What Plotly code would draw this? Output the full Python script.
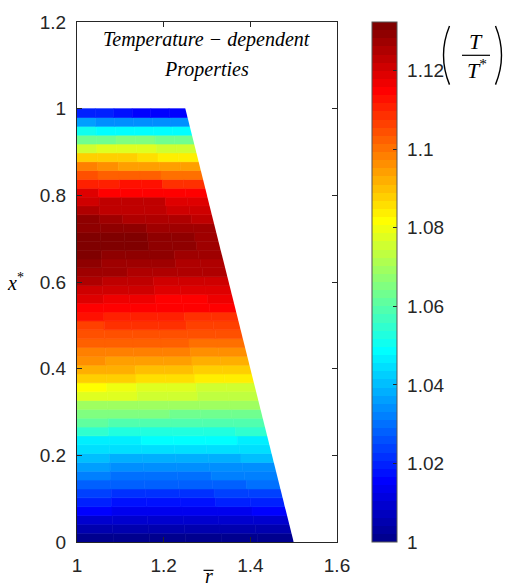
import numpy as np
import plotly.graph_objects as go

# ---------------- data ----------------
# axial grid nodes x* (49 cells between 50 nodes) and domain geometry
x_nodes = np.linspace(0.0, 1.0, 50)
R_IN = 1.0            # inner radius r̄
R_OUT_BOTTOM = 1.5    # outer radius at x* = 0
R_OUT_TOP = 1.25      # outer radius at x* = 1

# T/T* per axial row (bottom -> top) for six radial bands (inner -> outer)
T_band1 = [1.001, 1.005, 1.009, 1.016, 1.020, 1.024, 1.028, 1.032, 1.036, 1.040,
           1.045, 1.047, 1.055, 1.061, 1.065, 1.069, 1.078, 1.082, 1.088, 1.092,
           1.096, 1.098, 1.102, 1.105, 1.107, 1.113, 1.115, 1.119, 1.121, 1.125,
           1.127, 1.129, 1.131, 1.131, 1.131, 1.129, 1.129, 1.125, 1.121, 1.119,
           1.111, 1.105, 1.098, 1.088, 1.076, 1.063, 1.051, 1.036, 1.020]
T_band2 = [1.001, 1.005, 1.009, 1.013, 1.018, 1.022, 1.028, 1.030, 1.034, 1.038,
           1.045, 1.047, 1.053, 1.059, 1.065, 1.069, 1.078, 1.080, 1.088, 1.092,
           1.094, 1.098, 1.102, 1.105, 1.109, 1.111, 1.115, 1.117, 1.121, 1.123,
           1.127, 1.127, 1.129, 1.131, 1.131, 1.129, 1.127, 1.123, 1.123, 1.115,
           1.111, 1.102, 1.096, 1.088, 1.078, 1.063, 1.049, 1.034, 1.020]
T_band3 = [1.001, 1.005, 1.009, 1.013, 1.018, 1.022, 1.028, 1.030, 1.034, 1.038,
           1.045, 1.049, 1.053, 1.059, 1.065, 1.069, 1.076, 1.078, 1.086, 1.090,
           1.094, 1.098, 1.102, 1.105, 1.109, 1.111, 1.115, 1.117, 1.121, 1.123,
           1.125, 1.127, 1.129, 1.131, 1.131, 1.129, 1.125, 1.123, 1.123, 1.115,
           1.113, 1.102, 1.094, 1.088, 1.078, 1.065, 1.049, 1.034, 1.018]
T_band4 = [1.001, 1.005, 1.009, 1.013, 1.018, 1.022, 1.028, 1.030, 1.034, 1.038,
           1.045, 1.049, 1.053, 1.059, 1.063, 1.069, 1.076, 1.078, 1.086, 1.090,
           1.094, 1.098, 1.102, 1.105, 1.109, 1.111, 1.115, 1.115, 1.119, 1.121,
           1.125, 1.127, 1.129, 1.129, 1.129, 1.127, 1.125, 1.123, 1.123, 1.115,
           1.113, 1.102, 1.094, 1.086, 1.078, 1.065, 1.049, 1.034, 1.016]
T_band5 = [1.001, 1.005, 1.009, 1.013, 1.020, 1.024, 1.028, 1.032, 1.034, 1.038,
           1.045, 1.049, 1.053, 1.059, 1.063, 1.069, 1.073, 1.076, 1.084, 1.088,
           1.092, 1.096, 1.100, 1.105, 1.107, 1.109, 1.115, 1.115, 1.119, 1.121,
           1.125, 1.125, 1.127, 1.129, 1.129, 1.127, 1.125, 1.121, 1.119, 1.115,
           1.109, 1.100, 1.094, 1.084, 1.076, 1.063, 1.049, 1.034, 1.016]
T_band6 = [1.001, 1.005, 1.009, 1.016, 1.020, 1.024, 1.030, 1.032, 1.034, 1.040,
           1.045, 1.047, 1.055, 1.059, 1.063, 1.069, 1.073, 1.076, 1.084, 1.088,
           1.092, 1.096, 1.100, 1.105, 1.107, 1.109, 1.115, 1.117, 1.119, 1.121,
           1.125, 1.125, 1.127, 1.127, 1.127, 1.127, 1.123, 1.121, 1.119, 1.115,
           1.109, 1.100, 1.094, 1.084, 1.076, 1.063, 1.049, 1.034, 1.016]
T_bands = [T_band1, T_band2, T_band3, T_band4, T_band5, T_band6]

T_MIN, T_MAX = 1.0, 1.1324
x_tickvals = [1.0, 1.2, 1.4, 1.6]
x_ticktext = ["1", "1.2", "1.4", "1.6"]
y_tickvals = [0, 0.2, 0.4, 0.6, 0.8, 1.0, 1.2]
y_ticktext = ["0", "0.2", "0.4", "0.6", "0.8", "1", "1.2"]
cb_tickvals = [1.0, 1.02, 1.04, 1.06, 1.08, 1.1, 1.12]
cb_ticktext = ["1", "1.02", "1.04", "1.06", "1.08", "1.1", "1.12"]


# ---------------- MATLAB jet(64) as a stepped colorscale ----------------
def matlab_jet(m=64):
    n = int(np.ceil(m / 4))
    u = np.concatenate([np.arange(1, n + 1) / n, np.ones(n - 1), np.arange(n, 0, -1) / n])
    g = int(np.ceil(n / 2)) - (1 if m % 4 == 1 else 0) + np.arange(1, len(u) + 1)
    r = g + n
    b = g - n
    J = np.zeros((m, 3))
    for idx_arr, ch in ((r, 0), (g, 1), (b, 2)):
        for i, val in zip(idx_arr, u):
            if 1 <= i <= m:
                J[i - 1, ch] = val
    return J


jet = matlab_jet(64)
colorscale = []
for k, c in enumerate(jet):
    col = "rgb(%d,%d,%d)" % tuple(int(round(v * 255)) for v in c)
    colorscale.append([k / 64, col])
    colorscale.append([(k + 1) / 64, col])

# ---------------- figure ----------------
W, H = 505, 588
PL, PR, PT, PB = 77, 337, 19, 542   # plot area in pixels


def px(xp):
    return (xp - PL) / (PR - PL)


def py(yp):
    return (PB - yp) / (PB - PT)


AX = "#262626"
fig = go.Figure()

y_lo = x_nodes[:-1]
y_hi = x_nodes[1:]
y_c = 0.5 * (y_lo + y_hi)
thick = y_hi - y_lo
r_out_row = R_OUT_BOTTOM + (R_OUT_TOP - R_OUT_BOTTOM) * y_lo
n_band = len(T_bands)
band_w = (r_out_row - R_IN) / n_band

for j, Tb in enumerate(T_bands):
    fig.add_trace(go.Bar(
        orientation="h",
        y=y_c, x=band_w, base=R_IN + j * band_w, width=thick,
        marker=dict(
            color=Tb, colorscale=colorscale, cmin=T_MIN, cmax=T_MAX,
            line=dict(width=0.6, color=Tb, colorscale=colorscale, cmin=T_MIN, cmax=T_MAX),
            showscale=(j == 0),
            colorbar=dict(
                x=px(371.5), xanchor="left", xpad=0, y=0.5, yanchor="middle",
                len=1.0, lenmode="fraction", ypad=0, thickness=25,
                outlinewidth=1, outlinecolor="#555555",
                tickvals=cb_tickvals, ticktext=["\u00a0" + t for t in cb_ticktext],
                ticks="inside", ticklen=4, tickcolor=AX, tickwidth=1,
                tickfont=dict(family="Liberation Sans, Arial", size=19, color=AX),
            ),
        ),
        hoverinfo="skip", showlegend=False,
    ))

# white mask along the slanted outer wall
ym = np.array([-0.05, 1.05])
rm = R_OUT_BOTTOM + (R_OUT_TOP - R_OUT_BOTTOM) * ym
fig.add_trace(go.Scatter(
    x=[rm[0], rm[1], 1.8, 1.8], y=[ym[0], ym[1], ym[1], ym[0]],
    fill="toself", fillcolor="white", mode="lines", line=dict(width=0, color="white"),
    hoverinfo="skip", showlegend=False,
))

axis_common = dict(
    showgrid=False, zeroline=False, showline=True, linecolor=AX, linewidth=1,
    mirror="ticks", ticks="inside", ticklen=5, tickcolor=AX, tickwidth=1,
    tickfont=dict(family="Liberation Sans, Arial", size=19, color=AX),
)
fig.update_xaxes(range=[1.0, 1.6], tickvals=x_tickvals, ticktext=x_ticktext,
                 ticklabelstandoff=6, **axis_common)
fig.update_yaxes(range=[0.0, 1.2], tickvals=y_tickvals, ticktext=y_ticktext,
                 ticklabelstandoff=6, **axis_common)

serif = "Liberation Serif, Times New Roman, serif"
ann = []
ann.append(dict(x=px(206), y=py(37), text="<i>Temperature − dependent</i>"))
ann.append(dict(x=px(206), y=py(67), text="<i>Properties</i>"))
ann.append(dict(x=px(15), y=py(281), text="<i>x</i><sup>*</sup>"))
ann.append(dict(x=px(476), y=py(39), text="<i>T</i>", size=22))
ann.append(dict(x=px(477), y=py(66), text="<i>T</i><sup>*</sup>", size=22))
for a in ann:
    fig.add_annotation(
        x=a["x"], y=a["y"], xref="paper", yref="paper", text=a["text"],
        showarrow=False, xanchor="center", yanchor="middle",
        font=dict(family=serif, size=a.get("size", 20), color="black"),
    )
# x-axis label r̄ (overbar drawn as a shape below)
fig.add_annotation(
    x=px(208.5), y=py(588), xref="paper", yref="paper", text="<i>r</i>",
    showarrow=False, xanchor="center", yanchor="bottom", borderpad=0,
    font=dict(family=serif, size=20, color="black"),
)

shapes = []
# overbar of r
shapes.append(dict(type="line", xref="paper", yref="paper",
                   x0=px(203.5), x1=px(213.5), y0=py(570.5), y1=py(570.5),
                   line=dict(color="black", width=1.2)))
# fraction line
shapes.append(dict(type="line", xref="paper", yref="paper",
                   x0=px(462), x1=px(490), y0=py(52.5), y1=py(52.5),
                   line=dict(color="black", width=1.2)))


def paren(x_end, x_mid, y_top, y_bot):
    xc = 2 * x_mid - x_end
    return "M %f,%f Q %f,%f %f,%f" % (px(x_end), py(y_top), px(xc), py((y_top + y_bot) / 2),
                                     px(x_end), py(y_bot))


shapes.append(dict(type="path", xref="paper", yref="paper", path=paren(449.5, 443.5, 23, 82),
                   line=dict(color="black", width=1.4)))
shapes.append(dict(type="path", xref="paper", yref="paper", path=paren(495.5, 501.5, 23, 82),
                   line=dict(color="black", width=1.4)))
fig.update_layout(shapes=shapes)

fig.update_layout(
    width=W, height=H, barmode="overlay",
    margin=dict(l=PL, r=W - PR, t=PT, b=H - PB, pad=0),
    paper_bgcolor="white", plot_bgcolor="white",
)

fig.write_html("out.html")
